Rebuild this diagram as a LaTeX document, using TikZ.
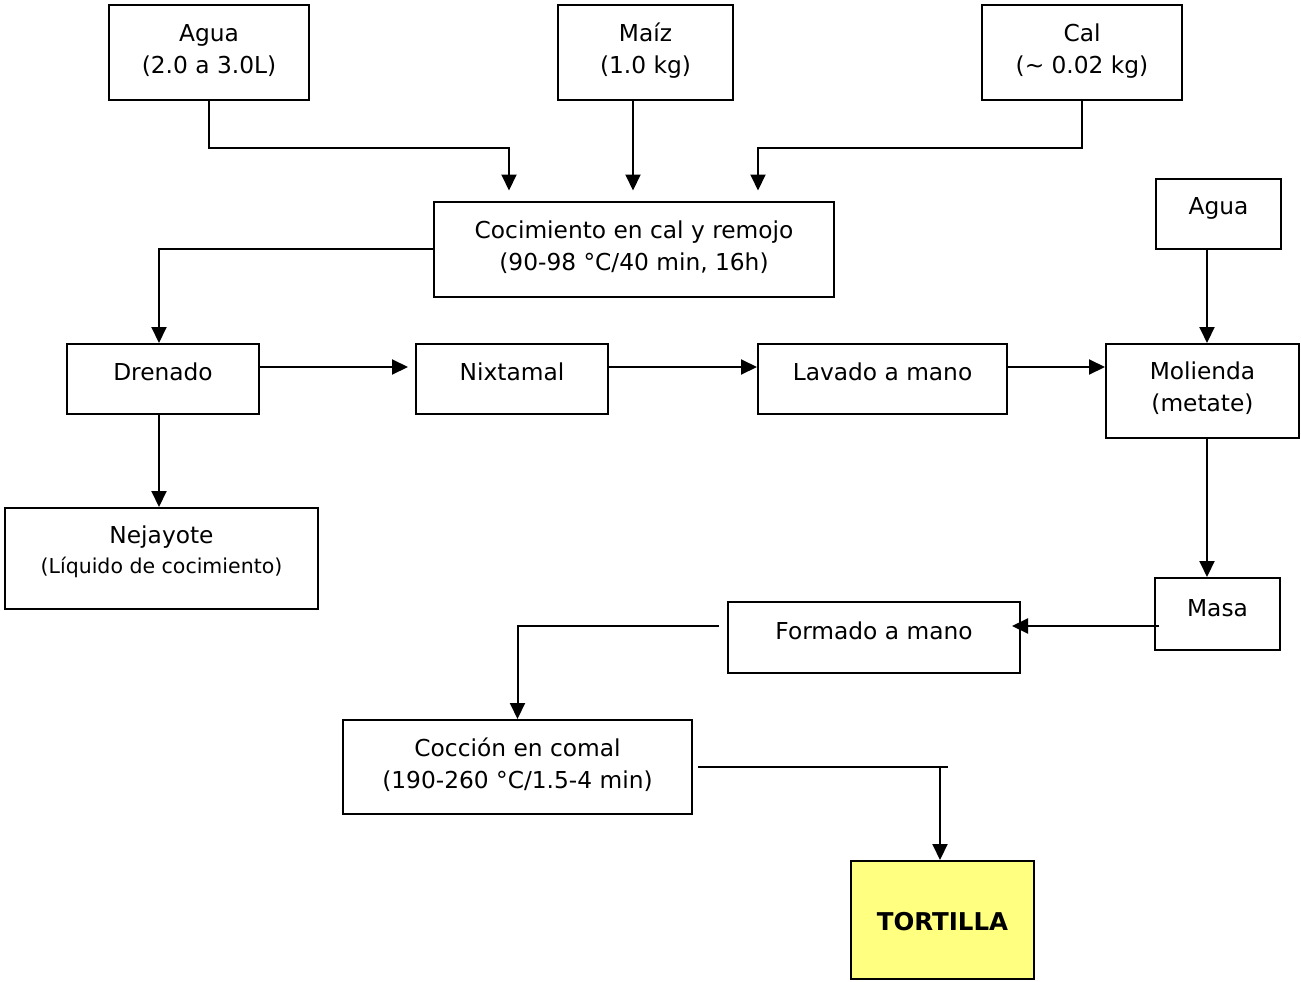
\documentclass[tikz,border=0pt]{standalone}
\usepackage{fontspec}
\setmainfont{DejaVu Sans}
\usetikzlibrary{arrows.meta,calc}
\definecolor{tyellow}{HTML}{FFFF80}
\begin{document}
\begin{tikzpicture}[x=1pt,y=-1pt,
  box/.style={draw=black,line width=2pt,rectangle,inner sep=0pt},
  txt/.style={inner sep=0pt,align=center,font=\fontsize{23.3}{32}\selectfont},
  ln/.style={line width=2pt},
  arr/.style={line width=2pt,-{Triangle[length=16pt,width=15pt]}}]
\useasboundingbox (0,0) rectangle (1301,982);
% boxes
\node[box,minimum width=200,minimum height=95] (agua) at (209,52.5) {};
\node[box,minimum width=175,minimum height=95] (maiz) at (645.5,52.5) {};
\node[box,minimum width=200,minimum height=95] (cal) at (1082,52.5) {};
\node[box,minimum width=400,minimum height=95] (coc) at (634,249) {};
\node[box,minimum width=125,minimum height=70] (agua2) at (1218.5,214) {};
\node[box,minimum width=192,minimum height=70] (dren) at (163,379) {};
\node[box,minimum width=192,minimum height=70] (nix) at (512,379) {};
\node[box,minimum width=249,minimum height=70] (lav) at (882.5,379) {};
\node[box,minimum width=193,minimum height=94] (mol) at (1202.5,391) {};
\node[box,minimum width=313,minimum height=101] (nej) at (161.5,558.5) {};
\node[box,minimum width=125,minimum height=72] (masa) at (1217.5,614) {};
\node[box,minimum width=292,minimum height=71] (form) at (874,637.5) {};
\node[box,minimum width=349,minimum height=94] (coc2) at (517.5,767) {};
\node[box,fill=tyellow,minimum width=183,minimum height=118] (tort) at (942.5,920) {};
% texts
\node[txt] (aguat) at (209,51) {Agua\\(2.0 a 3.0L)};
\node[txt] (maizt) at (645.5,51) {Maíz\\(1.0 kg)};
\node[txt] (calt) at (1082,51) {Cal\\(\~{} 0.02 kg)};
\node[txt] (coct) at (634,247) {Cocimiento en cal y remojo\\(90-98 °C/40 min, 16h)};
\node[txt] (agua2t) at (1218.5,208) {Agua};
\node[txt] (drent) at (163,372) {Drenado};
\node[txt] (nixt) at (512,372) {Nixtamal};
\node[txt] (lavt) at (882.5,372) {Lavado a mano};
\node[txt] (molt) at (1202.5,388) {Molienda\\(metate)};
\node[txt] (nejt1) at (161.5,537) {Nejayote};
\node[txt,font=\fontsize{20.5}{24}\selectfont] (nejt2) at (161.5,567) {(Líquido de cocimiento)};
\node[txt] (masat) at (1217.5,608) {Masa};
\node[txt] (formt) at (874,631) {Formado a mano};
\node[txt] (coc2t) at (517.5,765) {Cocción en comal\\(190-260 °C/1.5-4 min)};
\node[txt,font=\fontsize{24.5}{28}\selectfont\bfseries] (tortt) at (942.5,922) {TORTILLA};
% connectors
\draw[arr] (agua.south) -- ++(0,47) -| ([xshift=-125pt,yshift=10pt]coc.north);
\draw[arr] ([xshift=-1pt]maiz.south -| coc.north) -- ([xshift=-1pt,yshift=10pt]coc.north);
\draw[arr] (cal.south) -- ++(0,47) -| ([xshift=124pt,yshift=10pt]coc.north);
\draw[arr] (coc.west) -| ([xshift=-4pt]dren.north);
\draw[arr] ([yshift=12pt]dren.east) -- ([xshift=-7pt,yshift=12pt]nix.west);
\draw[arr] ([yshift=12pt]nix.east) -- ([yshift=12pt]lav.west);
\draw[arr] ([yshift=12pt]lav.east) -- ([yshift=12pt]lav.east -| mol.west);
\draw[arr] ([xshift=-11.5pt]agua2.south) -- ([xshift=-11.5pt]agua2.south |- mol.north);
\draw[arr] ([xshift=-4pt]dren.south) -- ([xshift=-4pt]dren.south |- nej.north);
\draw[arr] ([xshift=4.5pt]mol.south) -- ([xshift=4.5pt]mol.south |- masa.north);
\draw[arr] ([xshift=5pt,yshift=-12pt]masa.west) coordinate (m1) -- ([xshift=-9pt]m1 -| form.east);
\draw[arr] ([xshift=-8pt,yshift=11.5pt]form.west) -| (coc2.north);
\draw[ln] ([xshift=5pt]coc2.east) -- ([xshift=5pt]tort.north |- coc2.east);
\draw[arr] ([xshift=-2.5pt]tort.north |- coc2.east) -- ([xshift=-2.5pt]tort.north);
\end{tikzpicture}
\end{document}
